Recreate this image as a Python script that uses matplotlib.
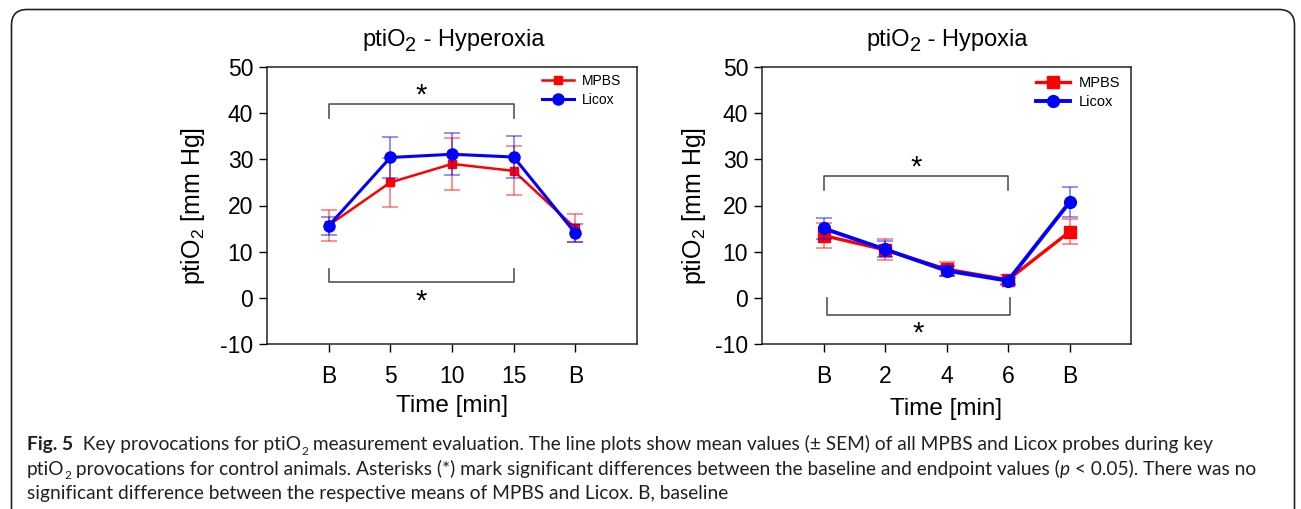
import matplotlib
matplotlib.use('Agg')
import matplotlib.pyplot as plt
from matplotlib.patches import FancyBboxPatch

# ---------------- data ----------------
hyper_labels = ['B', '5', '10', '15', 'B']
hyper_mpbs = [15.7, 25.0, 29.0, 27.5, 15.1]
hyper_mpbs_sem = [3.3, 5.3, 5.7, 5.3, 3.1]
hyper_licox = [15.6, 30.4, 31.1, 30.5, 14.0]
hyper_licox_sem = [2.0, 4.4, 4.6, 4.5, 1.9]

hypo_labels = ['B', '2', '4', '6', 'B']
hypo_mpbs = [13.5, 10.4, 6.2, 3.9, 14.3]
hypo_mpbs_sem = [2.7, 2.3, 1.55, 1.1, 2.7]
hypo_licox = [15.05, 10.5, 5.9, 3.7, 20.7]
hypo_licox_sem = [2.35, 1.75, 1.1, 0.6, 3.2]

# significance brackets: (x_start, x_end, bar_y, tip_y, star_y)
hyper_brackets = [(0, 3, 42.0, 38.9, 43.8), (0, 3, 3.5, 6.3, -0.9)]
hypo_brackets = [(0, 3, 26.4, 23.4, 28.3), (0.05, 3.04, -3.7, 0.0, -7.8)]

yticks = [-10, 0, 10, 20, 30, 40, 50]

W, H = 1301, 509
plt.rcParams['font.family'] = ['Liberation Sans', 'DejaVu Sans']
plt.rcParams['mathtext.fontset'] = 'custom'
plt.rcParams['mathtext.rm'] = 'Liberation Sans'
plt.rcParams['mathtext.it'] = 'Liberation Sans:italic'
plt.rcParams['axes.unicode_minus'] = False

fig = plt.figure(figsize=(W / 100, H / 100), dpi=100)
renderer = fig.canvas.get_renderer()


def px_axes(x0, x1, ytop, ybot):
    return fig.add_axes([x0 / W, 1 - ybot / H, (x1 - x0) / W, (ybot - ytop) / H])


def run_width(txt, **kw):
    t1 = fig.text(0, 0, txt + '|', **kw)
    t2 = fig.text(0, 0, '|', **kw)
    w = t1.get_window_extent(renderer).width - t2.get_window_extent(renderer).width
    t1.remove()
    t2.remove()
    return w


def centered_runs(xc_px, y_px, runs, fs, family, sub_scale, sub_drop):
    """Draw a line of text made of runs (text, style) centred on xc_px."""
    kws = []
    for txt, style in runs:
        kw = dict(family=family, fontsize=fs, color='black')
        dy = 0
        if style == 'sub':
            kw['fontsize'] = fs * sub_scale
            dy = fs * sub_drop * 100 / 72
        kws.append((txt, kw, dy))
    total = sum(run_width(t, **kw) for t, kw, _ in kws)
    x = xc_px - total / 2
    for t, kw, dy in kws:
        fig.text(x / W, 1 - (y_px + dy) / H, t, ha='left', va='baseline', **kw)
        x += run_width(t, **kw)


def draw_panel(ax, labels, mpbs, mpbs_sem, licox, licox_sem, brackets,
               lw, ms_sq, ms_ci, leg_fs, leg_anchor, xlabelpad, ylabelpad):
    x = list(range(len(labels)))
    ax.errorbar(x, mpbs, yerr=mpbs_sem, fmt='none', ecolor='#ff0000', alpha=0.55,
                elinewidth=1.1, capsize=5.5, capthick=1.1, zorder=2)
    l1, = ax.plot(x, mpbs, color='#ff0000', lw=lw, marker='s', ms=ms_sq,
                  label='MPBS', zorder=3)
    ax.errorbar(x, licox, yerr=licox_sem, fmt='none', ecolor='#0000ff', alpha=0.55,
                elinewidth=1.1, capsize=5.5, capthick=1.1, zorder=4)
    l2, = ax.plot(x, licox, color='#0000ff', lw=lw + 0.4, marker='o', ms=ms_ci,
                  label='Licox', zorder=5)
    for (xa, xb, yb, yt, ys) in brackets:
        ax.plot([xa, xa, xb, xb], [yt, yb, yb, yt], color='#555555', lw=1.2, zorder=1)
        ax.text((xa + xb) / 2, ys, '*', ha='center', va='center', fontsize=21,
                color='black')
    ax.set_xlim(-1, 5)
    ax.set_ylim(-10, 50)
    ax.set_xticks(x)
    ax.set_xticklabels(labels)
    ax.set_yticks(yticks)
    ax.tick_params(axis='both', direction='out', length=6, width=1, labelsize=16.5,
                   colors='black')
    ax.tick_params(axis='x', pad=9)
    ax.tick_params(axis='y', pad=4)
    for s in ax.spines.values():
        s.set_linewidth(1.1)
        s.set_color('#222222')
    ax.set_xlabel('Time [min]', fontsize=17.5, labelpad=xlabelpad)
    ax.set_ylabel('ptiO$_2$ [mm Hg]', fontsize=18, labelpad=ylabelpad)
    ax.legend(handles=[l1, l2], loc='upper left', frameon=False, fontsize=leg_fs,
              bbox_to_anchor=(leg_anchor[0] / W, 1 - leg_anchor[1] / H),
              bbox_transform=fig.transFigure, borderpad=0, borderaxespad=0,
              handlelength=2.3, handletextpad=0.6, labelspacing=0.35)


ax1 = px_axes(267, 637, 67, 344)
draw_panel(ax1, hyper_labels, hyper_mpbs, hyper_mpbs_sem, hyper_licox, hyper_licox_sem,
           hyper_brackets, 1.8, 6, 8, 10, (542, 74), 5, 9)

ax2 = px_axes(762, 1131, 67, 344)
draw_panel(ax2, hypo_labels, hypo_mpbs, hypo_mpbs_sem, hypo_licox, hypo_licox_sem,
           hypo_brackets, 2.4, 8.5, 8.5, 10.5, (1036, 76), 7, 5)

title_font = ['Liberation Sans', 'DejaVu Sans']
centered_runs(453, 46, [('ptiO', ''), ('2', 'sub'), (' - Hyperoxia', '')],
              17, title_font, 0.85, 0.2)
centered_runs(947, 46, [('ptiO', ''), ('2', 'sub'), (' - Hypoxia', '')],
              17, title_font, 0.85, 0.2)

# ---------------- frame ----------------
frame = FancyBboxPatch((11.5 / W, -0.05), (1294.5 - 11.5) / W, 1.05 - 9.5 / H,
                       boxstyle='round,pad=0,rounding_size=0.012',
                       transform=fig.transFigure, fill=False, edgecolor='#222222',
                       lw=1.2, mutation_aspect=W / H)
fig.patches.append(frame)

# ---------------- caption ----------------
cap_font = ['Lato', 'DejaVu Sans']


def draw_runs(x_px, y_px, runs, fs):
    x = x_px
    for txt, style in runs:
        kw = dict(family=cap_font, fontsize=fs, color='#231f20')
        dy = 0
        if style == 'bold':
            kw['fontweight'] = 'bold'
        elif style == 'italic':
            kw['fontstyle'] = 'italic'
        elif style == 'sub':
            kw['fontsize'] = fs * 0.62
            dy = fs * 0.25 * 100 / 72
        fig.text(x / W, 1 - (y_px + dy) / H, txt, ha='left', va='baseline', **kw)
        x += run_width(txt, **kw)


cap_fs = 12.3
line1 = [('Fig. 5', 'bold'), ('  Key provocations for ptiO', ''), ('2', 'sub'),
         (' measurement evaluation. The line plots show mean values (± SEM) of all MPBS '
          'and Licox probes during key', '')]
line2 = [('ptiO', ''), ('2', 'sub'),
         (' provocations for control animals. Asterisks (*) mark significant differences '
          'between the baseline and endpoint values (', ''), ('p', 'italic'),
         (' < 0.05). There was no', '')]
line3 = [('significant difference between the respective means of MPBS and Licox. B, '
          'baseline', '')]

# fit font size so that line 2 spans the measured width
w2 = sum(run_width(t, family=cap_font, fontsize=cap_fs,
                   fontstyle='italic' if s == 'italic' else 'normal')
         if s != 'sub' else run_width(t, family=cap_font, fontsize=cap_fs * 0.62)
         for t, s in line2)
cap_fs = cap_fs * (1233.0 / w2)

draw_runs(27, 450, line1, cap_fs)
draw_runs(27, 474.5, line2, cap_fs)
draw_runs(27, 499, line3, cap_fs)

fig.savefig('out.png', dpi=100, facecolor='white')
